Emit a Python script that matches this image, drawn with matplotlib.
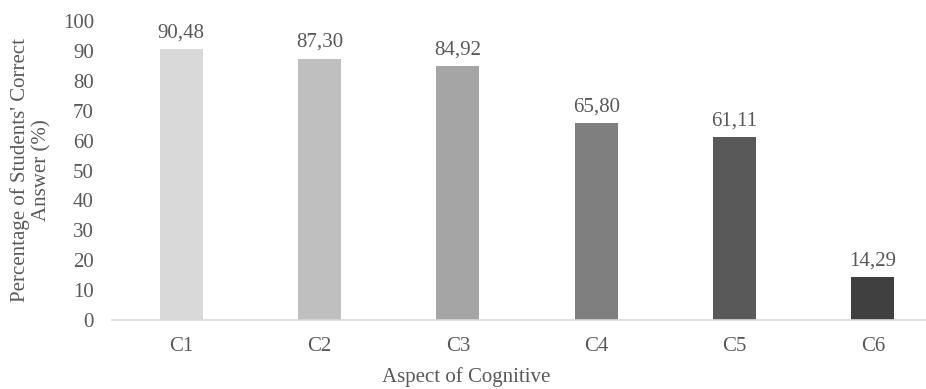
import matplotlib
matplotlib.use("Agg")
import matplotlib.pyplot as plt

categories = ["C1", "C2", "C3", "C4", "C5", "C6"]
values = [90.48, 87.30, 84.92, 65.80, 61.11, 14.29]
bar_colors = ["#d9d9d9", "#bfbfbf", "#a5a5a5", "#7f7f7f", "#595959", "#404040"]
y_ticks = [0, 10, 20, 30, 40, 50, 60, 70, 80, 90, 100]

text_color = "#595959"
fs = 15
plt.rcParams["font.family"] = ["Liberation Serif", "DejaVu Serif"]

W, H = 926, 389
fig = plt.figure(figsize=(W / 100, H / 100), dpi=100)
# axes left edge at x=112 px, bottom at y=320 px, top (100) at y=21 px
left, right = 112, 942
bottom, top = 320, 21
ax = fig.add_axes([left / W, (H - bottom) / H, (right - left) / W, (bottom - top) / H])

x = list(range(len(categories)))
ax.bar(x, values, width=0.31, color=bar_colors, zorder=2)

for xi, v in zip(x, values):
    ax.annotate(f"{v:.2f}".replace(".", ","), (xi, v), xytext=(0, 5),
                textcoords="offset points", ha="center", va="bottom",
                fontsize=fs, color=text_color)

ax.set_xlim(-0.5, len(categories) - 0.5)
ax.set_ylim(0, 100)
ax.set_yticks(y_ticks)
ax.set_xticks(x)
ax.set_xticklabels(categories)
ax.tick_params(axis="both", length=0, labelsize=fs, labelcolor=text_color)
ax.tick_params(axis="x", pad=12)
ax.tick_params(axis="y", pad=13)

for s in ["top", "right", "left"]:
    ax.spines[s].set_visible(False)
ax.spines["bottom"].set_color("#d9d9d9")
ax.spines["bottom"].set_linewidth(1.2)

fig.text(31 / W, 1 - 170 / H, "Percentage of Students' Correct\nAnswer (%)",
         rotation=90, ha="center", va="center", fontsize=fs, color=text_color,
         linespacing=1.12)
fig.text(466 / W, 1 - 377 / H, "Aspect of Cognitive", ha="center", va="center",
         fontsize=fs, color=text_color)

fig.savefig("out.png", dpi=100)
